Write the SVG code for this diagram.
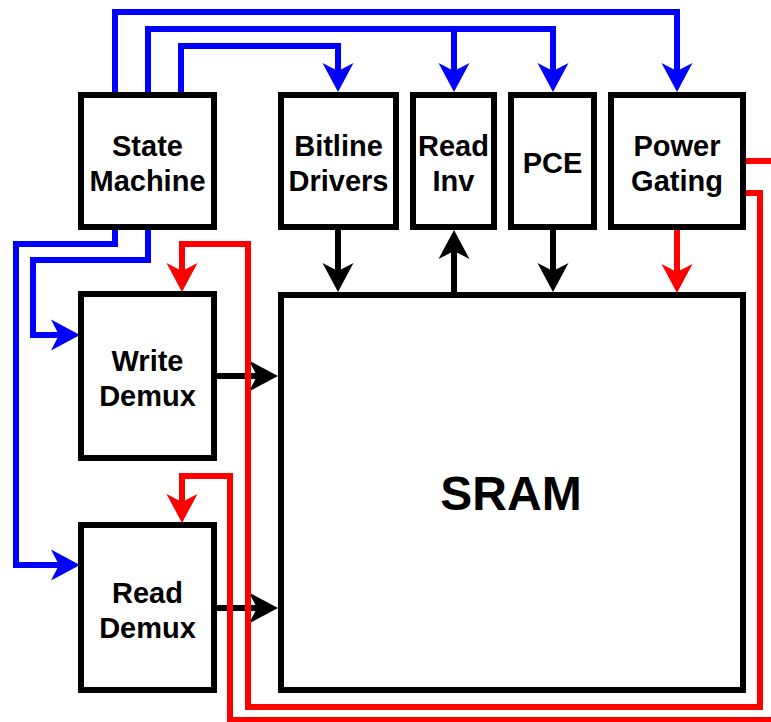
<svg xmlns="http://www.w3.org/2000/svg" width="771" height="722" viewBox="0 0 771 722">
  <style>
    .box { fill: #ffffff; stroke: #000000; stroke-width: 6; }
    .lbl { font-family: "Liberation Sans", Arial, Helvetica, sans-serif; font-weight: bold; font-size: 29px; fill: #000000; text-anchor: middle; }
    .big { font-size: 48px; }
    .wire { fill: none; stroke-width: 6; stroke-linejoin: miter; stroke-linecap: butt; }
    .blk { stroke: #000000; }
    .blu { stroke: #0000ff; }
    .red { stroke: #ff0000; }
  </style>
  <defs>
    <!-- arrowheads: origin sits at the notch, tip is 21 units ahead -->
    <marker id="ah-black" markerUnits="userSpaceOnUse" markerWidth="40" markerHeight="40" viewBox="-10 -20 40 40" refX="0" refY="0" orient="auto" overflow="visible">
      <path d="M-8,-15.5 L21,0 L-8,15.5 L0,0 Z" fill="#000000"/>
    </marker>
    <marker id="ah-blue" markerUnits="userSpaceOnUse" markerWidth="40" markerHeight="40" viewBox="-10 -20 40 40" refX="0" refY="0" orient="auto" overflow="visible">
      <path d="M-8,-15.5 L21,0 L-8,15.5 L0,0 Z" fill="#0000ff"/>
    </marker>
    <marker id="ah-red" markerUnits="userSpaceOnUse" markerWidth="40" markerHeight="40" viewBox="-10 -20 40 40" refX="0" refY="0" orient="auto" overflow="visible">
      <path d="M-8,-15.5 L21,0 L-8,15.5 L0,0 Z" fill="#ff0000"/>
    </marker>
  </defs>

  <g id="connectors">
    <!-- data paths (black) -->
    <path class="wire blk" d="M338,230 V271" marker-end="url(#ah-black)"/>
    <path class="wire blk" d="M454,292 V251" marker-end="url(#ah-black)"/>
    <path class="wire blk" d="M553,230 V271" marker-end="url(#ah-black)"/>
    <path class="wire blk" d="M217,376 H257" marker-end="url(#ah-black)"/>
    <path class="wire blk" d="M217,608 H257" marker-end="url(#ah-black)"/>

    <!-- control paths (blue) from the state machine -->
    <path class="wire blu" d="M115,92 V12 H677 V71" marker-end="url(#ah-blue)"/>
    <path class="wire blu" d="M148,92 V29 H553 V71" marker-end="url(#ah-blue)"/>
    <path class="wire blu" d="M454,29 V71" marker-end="url(#ah-blue)"/>
    <path class="wire blu" d="M181,92 V46 H338 V71" marker-end="url(#ah-blue)"/>
    <path class="wire blu" d="M115,230 V244 H16 V565 H59" marker-end="url(#ah-blue)"/>
    <path class="wire blu" d="M148,230 V260 H33 V335 H59" marker-end="url(#ah-blue)"/>

    <!-- power paths (red) from power gating -->
    <path class="wire red" d="M677,230 V272" marker-end="url(#ah-red)"/>
    <path class="wire red" d="M746,193 H760 V707 H248 V244 H182 V271" marker-end="url(#ah-red)"/>
    <path class="wire red" d="M746,161 H775"/>
    <path class="wire red" d="M775,720 H230 V476 H182 V502" marker-end="url(#ah-red)"/>
  </g>

  <g id="state-machine">
    <rect class="box" x="81" y="95" width="133" height="132"/>
    <text class="lbl" x="147.5" y="156"><tspan x="147.5">State</tspan><tspan x="147.5" dy="35">Machine</tspan></text>
  </g>
  <g id="bitline-drivers">
    <rect class="box" x="281" y="95" width="115" height="132"/>
    <text class="lbl" x="338.5" y="156"><tspan x="338.5">Bitline</tspan><tspan x="338.5" dy="35">Drivers</tspan></text>
  </g>
  <g id="read-inv">
    <rect class="box" x="413" y="95" width="81" height="132"/>
    <text class="lbl" x="453.5" y="156"><tspan x="453.5">Read</tspan><tspan x="453.5" dy="35">Inv</tspan></text>
  </g>
  <g id="pce">
    <rect class="box" x="511" y="95" width="83" height="132"/>
    <text class="lbl" x="552.5" y="173">PCE</text>
  </g>
  <g id="power-gating">
    <rect class="box" x="611" y="95" width="132" height="132"/>
    <text class="lbl" x="677" y="156"><tspan x="677">Power</tspan><tspan x="677" dy="35">Gating</tspan></text>
  </g>
  <g id="write-demux">
    <rect class="box" x="81" y="294" width="133" height="164"/>
    <text class="lbl" x="147.5" y="371"><tspan x="147.5">Write</tspan><tspan x="147.5" dy="35">Demux</tspan></text>
  </g>
  <g id="read-demux">
    <rect class="box" x="81" y="525" width="133" height="165"/>
    <text class="lbl" x="147.5" y="603"><tspan x="147.5">Read</tspan><tspan x="147.5" dy="35">Demux</tspan></text>
  </g>
  <g id="sram">
    <rect class="box" x="281" y="295" width="462" height="395"/>
    <text class="lbl big" x="511" y="510">SRAM</text>
  </g>
</svg>
